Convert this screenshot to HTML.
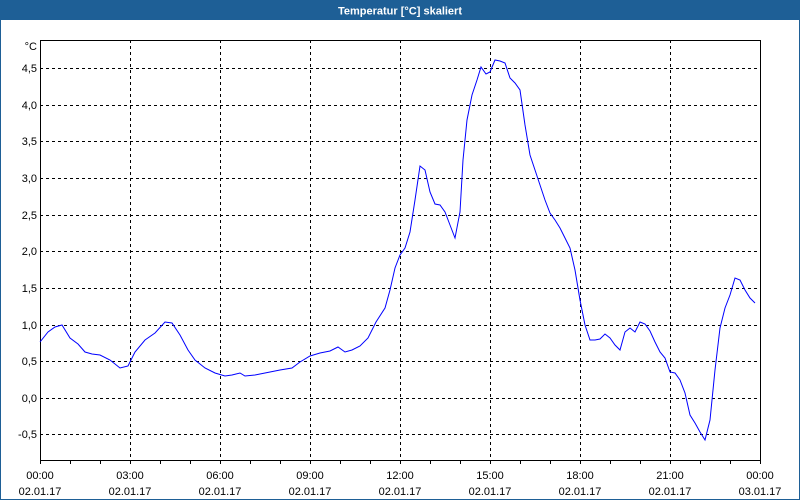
<!DOCTYPE html>
<html><head><style>
body{margin:0;background:#fff;}
#w{position:relative;width:798px;height:498px;border:1px solid #1e5f96;background:#fff;font-family:"Liberation Sans",sans-serif;}
</style></head><body><div id="w">
<svg width="800" height="500" style="position:absolute;left:-1px;top:-1px" font-family="Liberation Sans, sans-serif" font-size="11">
<rect x="0" y="0" width="800" height="20" fill="#1e5f96"/>
<text x="400" y="14.5" fill="#fff" font-weight="bold" text-anchor="middle" font-size="11">Temperatur [°C] skaliert</text>
<g stroke="#000" stroke-dasharray="3,3" stroke-width="1">
<line x1="40" x2="760" y1="68.5" y2="68.5"/><line x1="40" x2="760" y1="105.5" y2="105.5"/><line x1="40" x2="760" y1="141.5" y2="141.5"/><line x1="40" x2="760" y1="178.5" y2="178.5"/><line x1="40" x2="760" y1="215.5" y2="215.5"/><line x1="40" x2="760" y1="251.5" y2="251.5"/><line x1="40" x2="760" y1="288.5" y2="288.5"/><line x1="40" x2="760" y1="325.5" y2="325.5"/><line x1="40" x2="760" y1="361.5" y2="361.5"/><line x1="40" x2="760" y1="398.5" y2="398.5"/><line x1="40" x2="760" y1="434.5" y2="434.5"/>
<line y1="40" y2="460" x1="130.5" x2="130.5"/><line y1="40" y2="460" x1="220.5" x2="220.5"/><line y1="40" y2="460" x1="310.5" x2="310.5"/><line y1="40" y2="460" x1="400.5" x2="400.5"/><line y1="40" y2="460" x1="490.5" x2="490.5"/><line y1="40" y2="460" x1="580.5" x2="580.5"/><line y1="40" y2="460" x1="670.5" x2="670.5"/>
</g>
<rect x="40.5" y="40.5" width="720" height="420" fill="none" stroke="#000"/>
<g stroke="#000">
<path d="M70.5 460v4M100.5 460v4M130.5 460v4M160.5 460v4M190.5 460v4M220.5 460v4M250.5 460v4M280.5 460v4M310.5 460v4M340.5 460v4M370.5 460v4M400.5 460v4M430.5 460v4M460.5 460v4M490.5 460v4M520.5 460v4M550.5 460v4M580.5 460v4M610.5 460v4M640.5 460v4M670.5 460v4M700.5 460v4M730.5 460v4M760.5 460v4M40.5 460v4"/>
</g>
<g text-anchor="end" fill="#000">
<text x="37" y="50">°C</text>
<text x="37" y="72">4,5</text><text x="37" y="109">4,0</text><text x="37" y="145">3,5</text><text x="37" y="182">3,0</text><text x="37" y="219">2,5</text><text x="37" y="255">2,0</text><text x="37" y="292">1,5</text><text x="37" y="329">1,0</text><text x="37" y="365">0,5</text><text x="37" y="402">0,0</text><text x="37" y="438">-0,5</text>
</g>
<g text-anchor="middle" fill="#000">
<text x="40" y="479">00:00</text><text x="40" y="495">02.01.17</text>
<text x="130" y="479">03:00</text><text x="130" y="495">02.01.17</text>
<text x="220" y="479">06:00</text><text x="220" y="495">02.01.17</text>
<text x="310" y="479">09:00</text><text x="310" y="495">02.01.17</text>
<text x="400" y="479">12:00</text><text x="400" y="495">02.01.17</text>
<text x="490" y="479">15:00</text><text x="490" y="495">02.01.17</text>
<text x="580" y="479">18:00</text><text x="580" y="495">02.01.17</text>
<text x="670" y="479">21:00</text><text x="670" y="495">02.01.17</text>
<text x="760" y="479">00:00</text><text x="760" y="495">03.01.17</text>
</g>
<polyline fill="none" stroke="#0000ff" stroke-width="1" points="40,342 48,332 55,327 62,325 70,338 78,344 85,352 92,354 100,355 110,360 120,368 128,366 135,352 145,340 155,333 165,322 172,323 180,335 188,350 195,360 205,368 215,373 225,376 232,375 240,373 245,376 255,375 265,373 280,370 292,368 300,362 310,356 320,353 330,351 338,347 345,352 352,350 360,346 368,338 376,322 385,308 390,290 395,268 400,255 405,248 410,232 415,200 420,166 425,170 430,192 435,204 440,205 445,212 450,225 455,238 460,212 463,160 467,120 472,95 477,80 481,67 486,74 490,72 495,60 500,61 505,63 510,78 515,83 520,90 525,125 530,155 535,170 540,185 545,200 550,213 555,220 560,228 565,238 570,248 575,270 580,300 585,325 590,340 595,340 600,339 605,334 610,338 615,345 620,350 625,332 630,328 635,332 640,322 645,324 650,331 655,342 660,352 665,358 670,372 675,373 680,380 685,393 690,415 695,423 700,432 705,440 710,420 715,370 720,328 725,308 730,295 735,278 740,280 745,290 750,298 755,303"/>
</svg>
</div></body></html>
